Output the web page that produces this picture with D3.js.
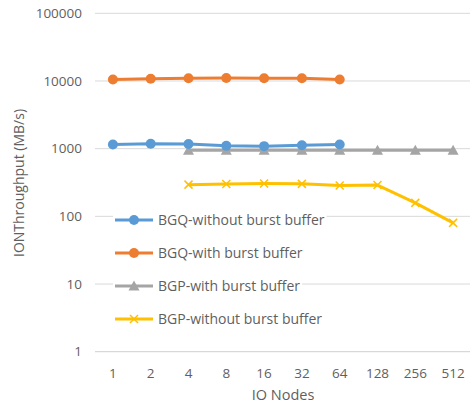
<!DOCTYPE html>
<html><head><meta charset="utf-8">
<script src="https://cdn.jsdelivr.net/npm/d3@7"></script>
<style>body{margin:0;background:#fff}svg{display:block}text{font-family:"Open Sans",sans-serif;fill:#5f5f5f}</style>
</head><body><svg id="c" width="470" height="404"></svg>
<script>
const categories = ["1","2","4","8","16","32","64","128","256","512"];
const bgqWithout = [1150,1180,1170,1100,1090,1120,1150,null,null,null];
const bgqWith = [10500,10800,11000,11100,11000,11000,10500,null,null,null];
const bgpWith = [null,null,950,950,950,950,950,950,950,950];
const bgpWithout = [null,null,294,300,305,302,285,290,158,80];
const yTicks = [1,10,100,1000,10000,100000];
const seriesNames = ["BGQ-without burst buffer","BGQ-with burst buffer","BGP-with burst buffer","BGP-without burst buffer"];
const series = [
  {name:seriesNames[0], values:bgqWithout, color:"#5B9BD5", marker:"circle"},
  {name:seriesNames[1], values:bgqWith, color:"#ED7D31", marker:"circle"},
  {name:seriesNames[2], values:bgpWith, color:"#A5A5A5", marker:"triangle"},
  {name:seriesNames[3], values:bgpWithout, color:"#FFC000", marker:"x"}
];
const svg = d3.select("#c");
const x = d3.scaleBand().domain(categories).range([94,472]);
const y = d3.scaleLog().domain([1,100000]).range([351.7,13.3]);
const xc = d => x(d)+x.bandwidth()/2;

svg.append("g").selectAll("line").data(yTicks).join("line")
  .attr("x1",95).attr("x2",470).attr("y1",d=>y(d)).attr("y2",d=>y(d))
  .attr("stroke",d=>d===1?"#cfcfcf":"#d9d9d9").attr("stroke-width",1);
svg.append("g").selectAll("text").data(yTicks).join("text")
  .attr("x",82).attr("y",d=>y(d)).attr("dy","0.35em").attr("text-anchor","end")
  .attr("font-size",13.5).text(d=>d);
svg.append("g").selectAll("text").data(categories).join("text")
  .attr("x",d=>xc(d)).attr("y",373).attr("dy","0.35em").attr("text-anchor","middle")
  .attr("font-size",13.5).text(d=>d);
svg.append("text").attr("x",283).attr("y",395).attr("dy","0.35em").attr("text-anchor","middle")
  .attr("font-size",14.5).text("IO Nodes");
svg.append("text").attr("transform","translate(19,183) rotate(-90)").attr("dy","0.35em")
  .attr("text-anchor","middle").attr("font-size",14).text("IONThroughput (MB/s)");

function drawMarker(g, type, cx, cy, color){
  if(type==="circle") g.append("circle").attr("cx",cx).attr("cy",cy).attr("r",5).attr("fill",color);
  else if(type==="triangle") g.append("path").attr("d",`M${cx},${cy-5.5}L${cx+5.5},${cy+4.5}L${cx-5.5},${cy+4.5}Z`).attr("fill",color);
  else g.append("path").attr("d",`M${cx-4},${cy-4}L${cx+4},${cy+4}M${cx+4},${cy-4}L${cx-4},${cy+4}`).attr("stroke",color).attr("stroke-width",1.5).attr("fill","none");
}

const lg = svg.append("g");
const legY = [220,253,286,319];
series.forEach((s,i)=>{
  const t = lg.append("text").attr("x",158).attr("y",legY[i]).attr("dy","0.35em").attr("font-size",14).text(s.name);
  const w = t.node().getComputedTextLength();
  lg.insert("rect","text").attr("x",113).attr("y",legY[i]-9).attr("width",w+47).attr("height",18).attr("fill","#fff");
  lg.append("line").attr("x1",115).attr("x2",153).attr("y1",legY[i]).attr("y2",legY[i]).attr("stroke",s.color).attr("stroke-width",3);
  drawMarker(lg, s.marker, 134, legY[i], s.color);
});

[2,3,1,0].forEach(i=>{
  const s = series[i];
  const pts = categories.map((c,j)=>({c, v:s.values[j]})).filter(d=>d.v!=null);
  const g = svg.append("g");
  g.append("path").datum(pts).attr("fill","none").attr("stroke",s.color).attr("stroke-width",3)
    .attr("stroke-linejoin","round")
    .attr("d",d3.line().x(d=>xc(d.c)).y(d=>y(d.v)));
  pts.forEach(d=>drawMarker(g, s.marker, xc(d.c), y(d.v), s.color));
});
</script></body></html>
